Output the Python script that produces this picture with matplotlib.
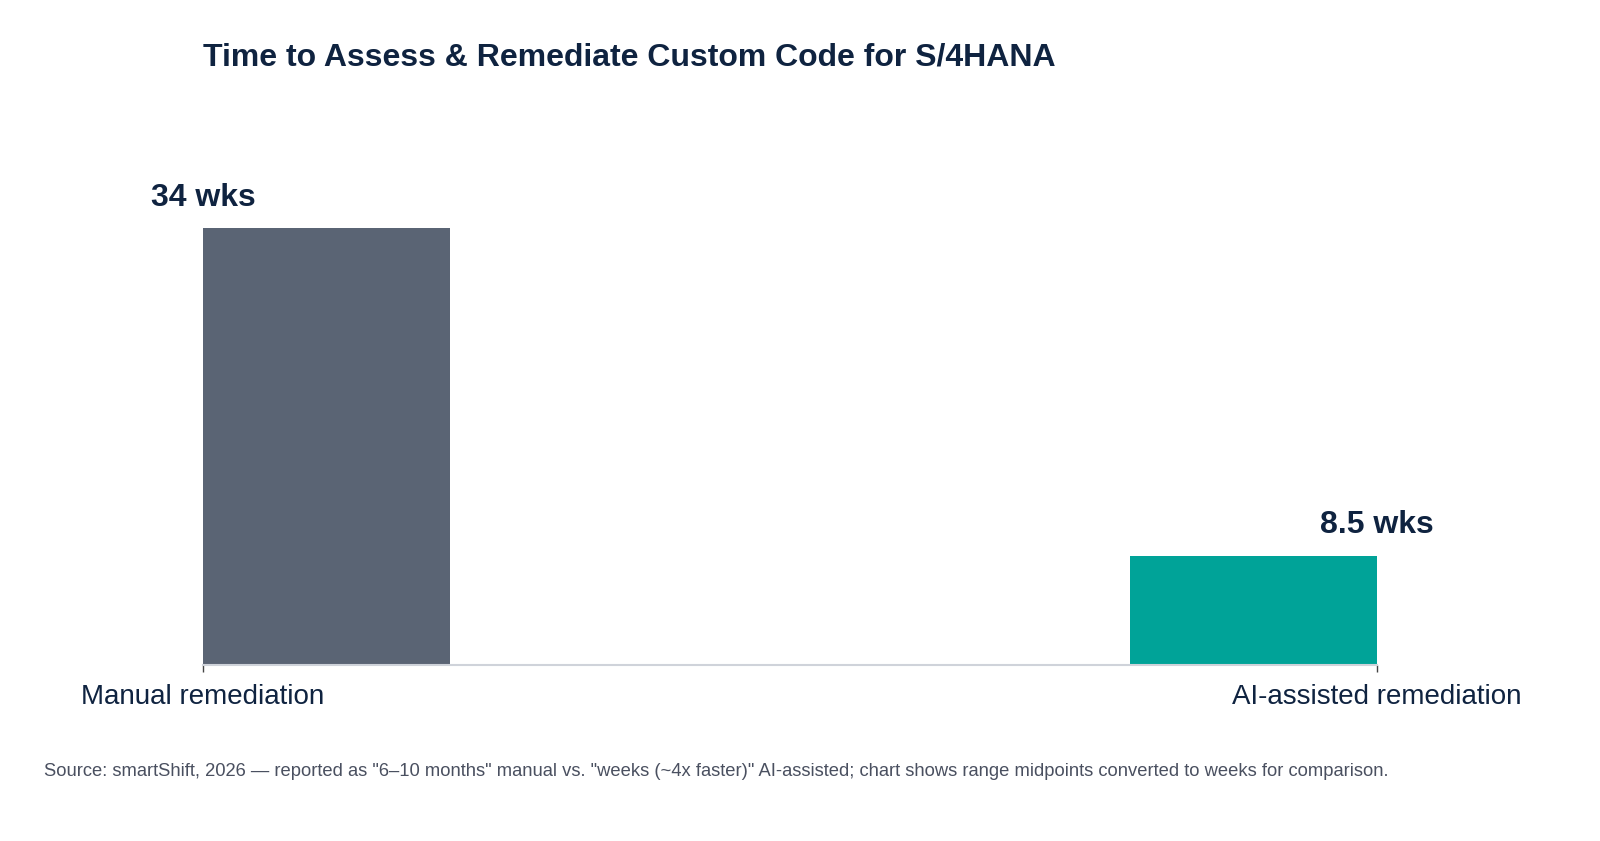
import matplotlib.pyplot as plt

plt.rcParams["font.family"] = ["Liberation Sans", "DejaVu Sans"]

categories = ["Manual remediation", "AI-assisted remediation"]
weeks = [34, 8.5]
value_labels = ["34 wks", "8.5 wks"]
bar_colors = ["#5a6474", "#00a398"]

NAVY = "#0f2340"
W, H = 1600, 841

fig = plt.figure(figsize=(W / 100, H / 100), dpi=100)
ax = fig.add_axes([203 / W, (H - 665) / H, (1377 - 203) / W, 514 / H])

x = list(range(len(categories)))
bar_w = 0.21
# first bar grows right of its tick, last bar grows left of its tick
ax.bar(x[0], weeks[0], width=bar_w, align="edge", color=bar_colors[0])
ax.bar(x[1], weeks[1], width=-bar_w, align="edge", color=bar_colors[1])

for xi, v, lab in zip(x, weeks, value_labels):
    ax.annotate(lab, (xi, v), xytext=(0, 11), textcoords="offset points",
                ha="center", va="bottom", fontsize=23, fontweight="bold",
                color=NAVY)

ax.set_xlim(0, 1)
ax.set_ylim(0, 40)
ax.set_xticks(x)
ax.set_xticklabels(categories, fontsize=20, color=NAVY)
ax.set_yticks([])
ax.tick_params(axis="x", length=5, width=1, color="#444444", pad=9)
for s in ["top", "right", "left"]:
    ax.spines[s].set_visible(False)
ax.spines["bottom"].set_color("#cfd3da")
ax.spines["bottom"].set_linewidth(1.5)

fig.text(203 / W, 1 - 57 / H, "Time to Assess & Remediate Custom Code for S/4HANA",
         ha="left", va="center", fontsize=23, fontweight="bold", color=NAVY)
fig.text(44 / W, 1 - 771 / H,
         'Source: smartShift, 2026 \u2014 reported as "6\u201310 months" manual vs. '
         '"weeks (~4x faster)" AI-assisted; chart shows range midpoints converted '
         'to weeks for comparison.',
         ha="left", va="center", fontsize=13.25, color="#4a5060")

fig.savefig("out.png", dpi=100, facecolor="white")
